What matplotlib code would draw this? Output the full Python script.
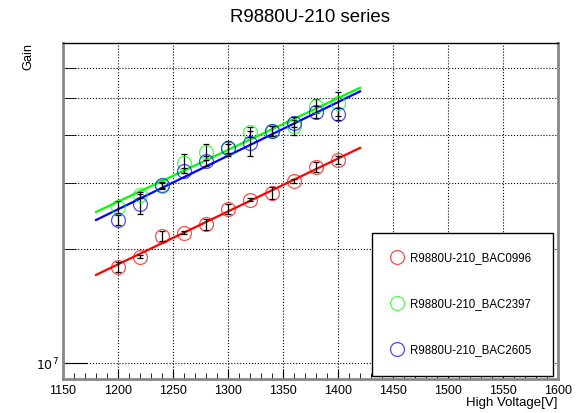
import numpy as np
import matplotlib.pyplot as plt
from matplotlib.ticker import FixedLocator, MultipleLocator, FuncFormatter
from matplotlib.lines import Line2D

plt.rcParams['font.family'] = ['Liberation Sans', 'DejaVu Sans']

hv = [1200, 1220, 1240, 1260, 1280, 1300, 1320, 1340, 1360, 1380, 1400]

# gain (x1e7)
gain_0996 = [1.80, 1.91, 2.17, 2.21, 2.33, 2.56, 2.70, 2.81, 3.03, 3.30, 3.45]
gain_2397 = [2.59, 2.78, 2.94, 3.37, 3.62, 3.69, 4.08, 4.10, 4.24, 4.78, 4.85]
gain_2605 = [2.39, 2.64, 2.95, 3.22, 3.42, 3.69, 3.81, 4.10, 4.30, 4.61, 4.54]

# relative errors
err_0996 = [0.030, 0.009, 0.030, 0.009, 0.032, 0.030, 0.009, 0.036, 0.012, 0.030, 0.024]
err_2397 = [0.036, 0.020, 0.018, 0.058, 0.048, 0.030, 0.030, 0.030, 0.055, 0.042, 0.072]
err_2605 = [0.030, 0.062, 0.018, 0.015, 0.032, 0.045, 0.075, 0.030, 0.020, 0.035, 0.036]

labels = ['R9880U-210_BAC0996', 'R9880U-210_BAC2397', 'R9880U-210_BAC2605']
colors = ['#ff0000', '#00ff00', '#0000ff']

fig = plt.figure(figsize=(5.84, 4.13), dpi=100)
ax = fig.add_axes([0.1079, 0.0823, 0.8476, 0.8136])

xfit = np.linspace(1180, 1420, 50)
handles = []
for g, e, c, lab in zip([gain_0996, gain_2397, gain_2605],
                        [err_0996, err_2397, err_2605], colors, labels):
    g = np.array(g) * 1e7
    e = np.array(e) * g
    p = np.polyfit(hv, np.log10(g), 1)
    ax.plot(xfit, 10 ** np.polyval(p, xfit), color=c, lw=1.6, zorder=2)
    ax.errorbar(hv, g, yerr=e, fmt='none', ecolor='black', elinewidth=0.9,
                capsize=2.5, capthick=0.9, zorder=3)
    ax.plot(hv, g, 'o', mfc='none', mec=c, ms=10, mew=0.9, alpha=0.7, zorder=4)
    handles.append(Line2D([], [], marker='o', ls='none', mfc='none', mec=c,
                          ms=10, mew=0.9, alpha=0.7, label=lab))

ax.set_yscale('log')
ax.set_xlim(1150, 1600)
ax.set_ylim(9.1e6, 7.0e7)

ax.xaxis.set_major_locator(MultipleLocator(50))
ax.xaxis.set_minor_locator(MultipleLocator(10))
ax.yaxis.set_major_locator(FixedLocator([1e7]))
ax.yaxis.set_minor_locator(FixedLocator([2e7, 3e7, 4e7, 5e7, 6e7]))
ax.yaxis.set_major_formatter(FuncFormatter(lambda v, pos: r'$10^{7}$'))
ax.yaxis.set_minor_formatter(FuncFormatter(lambda v, pos: ''))

ax.tick_params(axis='both', which='both', direction='in', labelsize=9, color='black')
ax.tick_params(axis='x', which='major', length=7, pad=4)
ax.tick_params(axis='x', which='minor', length=4)
ax.tick_params(axis='y', which='major', length=17, pad=3)
ax.tick_params(axis='y', which='minor', length=9)

ax.grid(True, which='major', axis='x', ls=':', color='black', lw=0.8)
ax.grid(True, which='both', axis='y', ls=':', color='black', lw=0.8)

for s in ['left', 'bottom', 'right']:
    ax.spines[s].set_color('#888888')
    ax.spines[s].set_linewidth(2)
ax.spines['top'].set_linewidth(1)

fig.text(0.531, 0.958, 'R9880U-210 series', fontsize=13.4, ha='center', va='center')
fig.text(0.048, 0.895, 'Gain', fontsize=9.2, rotation=90, ha='center', va='top')
fig.text(0.955, 0.024, 'High Voltage[V]', fontsize=9.5, ha='right', va='center')

leg = ax.legend(handles=handles, loc='upper left',
                bbox_to_anchor=(0.624, 0.021, 0.366, 0.414), mode='expand',
                borderaxespad=0, fontsize=8.3, labelspacing=2.95, borderpad=1.7,
                handletextpad=0.6, handlelength=1.0, fancybox=False,
                framealpha=1, edgecolor='black')
leg.get_frame().set_linewidth(1)

fig.savefig('out.png', dpi=100)
